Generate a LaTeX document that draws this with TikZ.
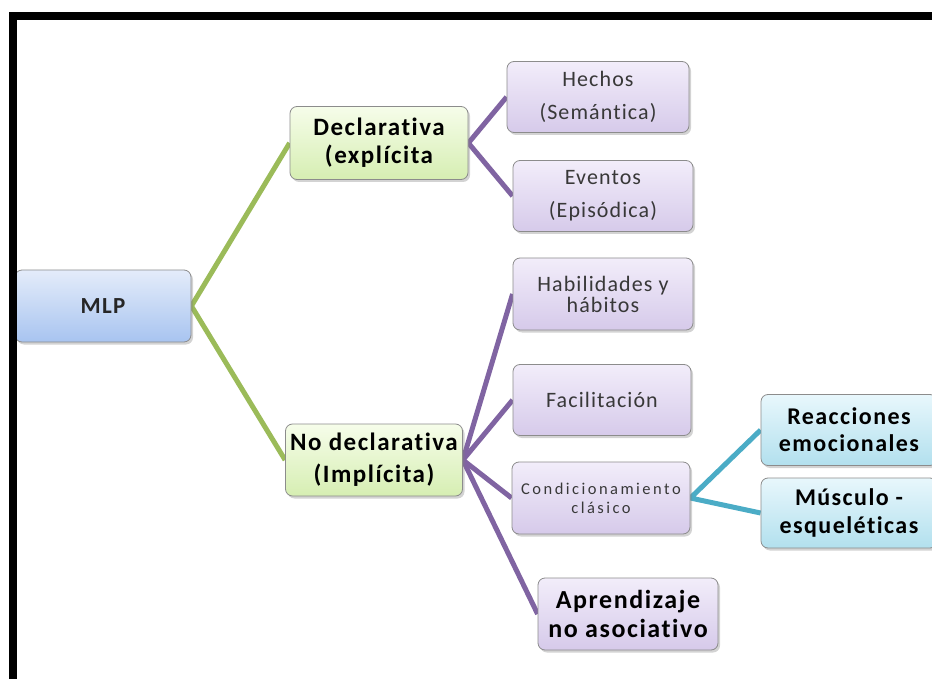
\documentclass[tikz,border=0pt]{standalone}
\usepackage{fontspec}
\setmainfont{Carlito}
\usetikzlibrary{shadows,backgrounds}
\definecolor{cgreen}{HTML}{9BBB59}
\definecolor{cpurple}{HTML}{8064A2}
\definecolor{cteal}{HTML}{4BACC6}
\newfontfamily\bldfont[LetterSpace=6,Ligatures=NoCommon]{Carlito}
\newfontfamily\regfont[LetterSpace=5,Ligatures=NoCommon]{Carlito}
\newfontfamily\widefont[LetterSpace=15,Ligatures=NoCommon]{Carlito}
\tikzset{
  box/.style={rectangle, rounded corners=7pt, draw=black!45, line width=0.8pt,
    align=center, inner sep=1pt,
    drop shadow={opacity=0.35, shadow xshift=2pt, shadow yshift=-2.5pt}},
  bluebox/.style={box, top color={rgb,255:red,228;green,236;blue,250}, bottom color={rgb,255:red,168;green,196;blue,240}},
  greenbox/.style={box, top color={rgb,255:red,246;green,253;blue,234}, bottom color={rgb,255:red,214;green,238;blue,178}},
  purplebox/.style={box, top color={rgb,255:red,242;green,237;blue,250}, bottom color={rgb,255:red,214;green,202;blue,234}},
  tealbox/.style={box, top color={rgb,255:red,232;green,247;blue,252}, bottom color={rgb,255:red,178;green,224;blue,238}},
  gline/.style={cgreen, line width=5pt, line join=round},
  pline/.style={cpurple, line width=5pt, line join=round},
  tline/.style={cteal, line width=5pt, line join=round},
  reg/.style={font=\regfont\fontsize{22}{33}\selectfont, text=black!78},
  bld/.style={font=\bldfont\fontsize{25}{28}\selectfont\bfseries, text=black},
}
\begin{document}
\begin{tikzpicture}[x=1pt,y=-1pt]
\useasboundingbox (0,0) rectangle (932,679);
% nodes
\node[bluebox, minimum width=176pt, minimum height=72pt, font=\bldfont\fontsize{23}{23}\selectfont\bfseries, text=black!85] (mlp) at (103,306) {MLP};
\node[greenbox, minimum width=178pt, minimum height=73pt, bld] (decl) at (379,143) {Declarativa\\(explícita};
\node[greenbox, minimum width=177pt, minimum height=72pt, bld, font=\bldfont\fontsize{25}{32}\selectfont\bfseries] (nodecl) at (374,460) {No declarativa\\(Implícita)};
\node[purplebox, minimum width=182pt, minimum height=71pt, reg] (hechos) at (598,97) {Hechos\\(Semántica)};
\node[purplebox, minimum width=180pt, minimum height=71pt, reg] (eventos) at (603,196) {Eventos\\(Episódica)};
\node[purplebox, minimum width=180pt, minimum height=72pt, reg, font=\regfont\fontsize{22}{21}\selectfont] (habil) at (603,294) {Habilidades y\\hábitos};
\node[purplebox, minimum width=178pt, minimum height=71pt, reg] (facil) at (602,400) {Facilitación};
\node[purplebox, minimum width=178pt, minimum height=72pt, font=\widefont\fontsize{16.5}{19}\selectfont, text=black!78] (cond) at (601,498) {Condicionamiento\\clásico};
\node[purplebox, minimum width=180pt, minimum height=72pt, font=\bldfont\fontsize{26}{29}\selectfont\bfseries, text=black] (aprend) at (628,614) {Aprendizaje\\no asociativo};
\node[tealbox, minimum width=176pt, minimum height=71pt, font=\bldfont\fontsize{24}{27}\selectfont\bfseries, text=black] (reac) at (849,430) {Reacciones\\emocionales};
\node[tealbox, minimum width=176pt, minimum height=70pt, font=\bldfont\fontsize{24}{28}\selectfont\bfseries, text=black] (musc) at (849,513) {Músculo -\\esqueléticas};
% connectors
\begin{scope}[on background layer]
\draw[gline] (decl.west) -- (mlp.east) -- (nodecl.west);
\draw[pline] (hechos.west) -- (decl.east) -- (eventos.west);
\draw[pline] (nodecl.east) -- (habil.west);
\draw[pline] (nodecl.east) -- (facil.west);
\draw[pline] (nodecl.east) -- (cond.west);
\draw[pline] (nodecl.east) -- (aprend.west);
\draw[tline] (reac.west) -- (cond.east) -- (musc.west);
\end{scope}
% frame
\draw[line width=8pt, line join=miter] (12.5,679) -- (12.5,16) -- (932,16);
\end{tikzpicture}
\end{document}
